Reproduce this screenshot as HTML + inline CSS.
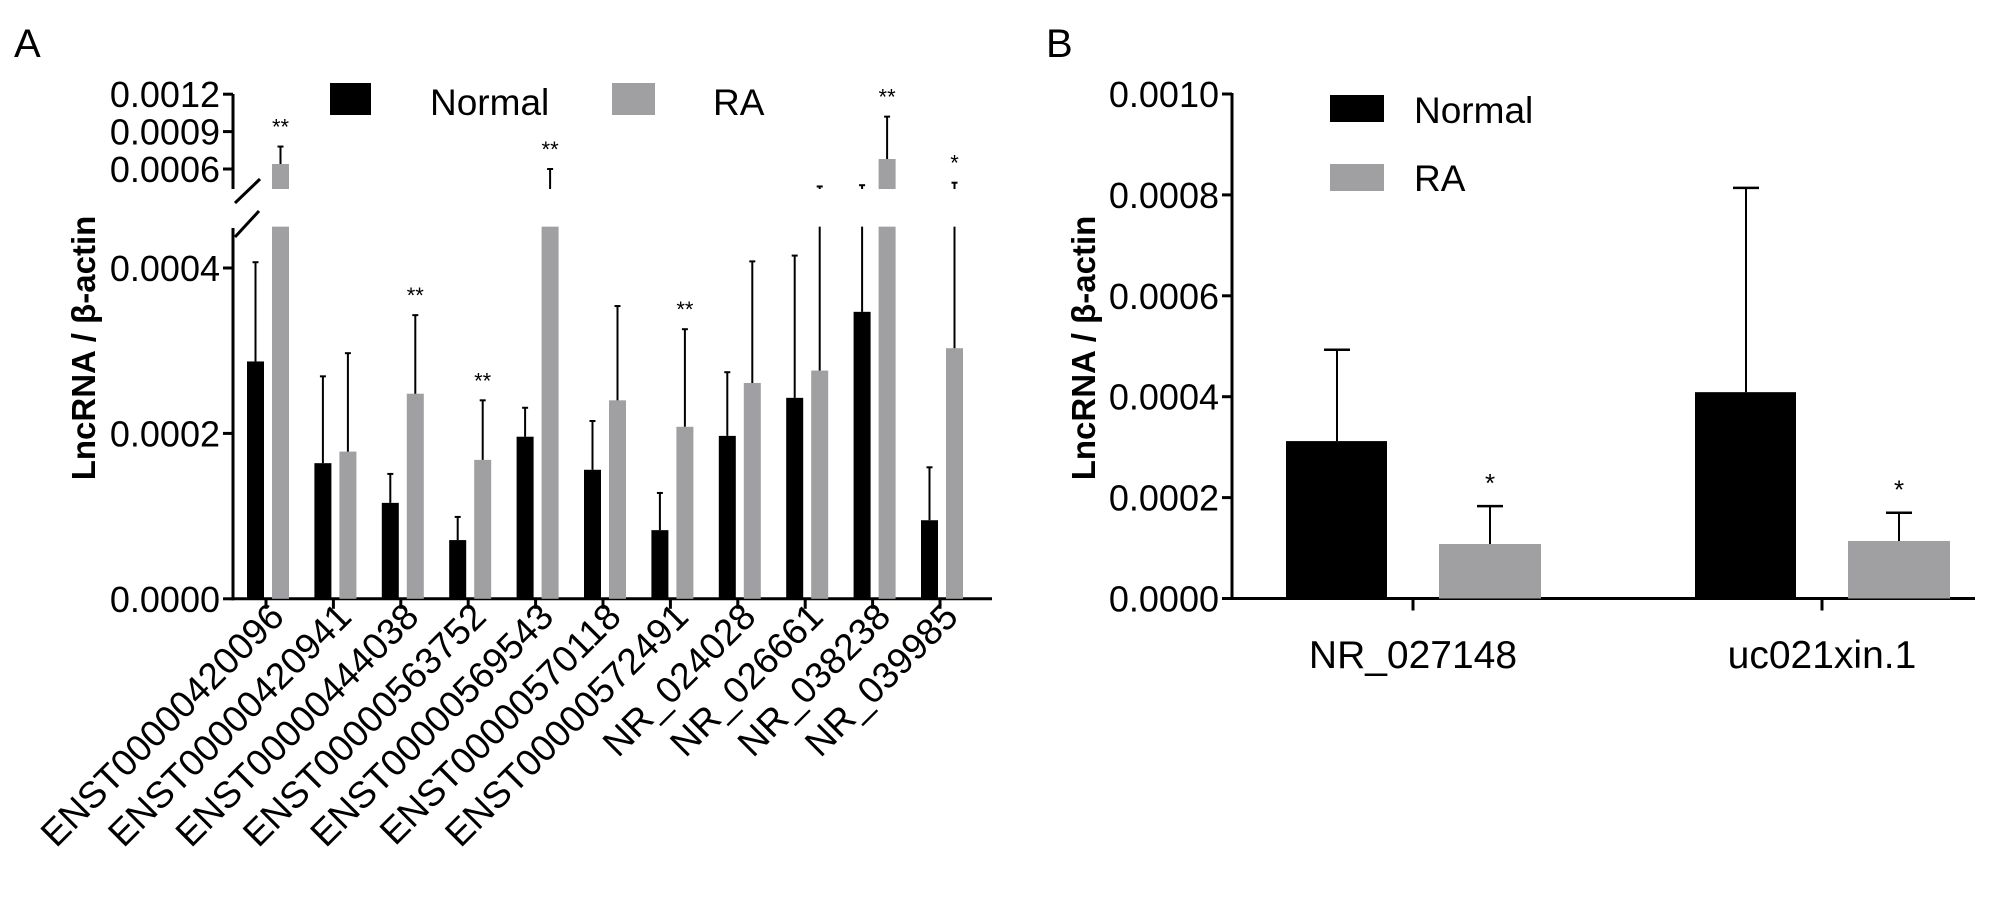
<!DOCTYPE html>
<html><head><meta charset="utf-8"><style>
body{margin:0;background:#fff;}
svg{display:block;font-family:"Liberation Sans",Arial,sans-serif;}
</style></head><body>
<svg id="chart" width="2008" height="903" viewBox="0 0 2008 903">
<text x="14" y="57" font-size="40">A</text>
<text x="1046" y="57" font-size="40">B</text>
<g id="A"></g>
<g id="B"></g>
</svg>
<script>
const catsA=["ENST00000420096","ENST00000420941","ENST00000444038","ENST00000563752","ENST00000569543","ENST00000570118","ENST00000572491","NR_024028","NR_026661","NR_038238","NR_039985"];
const normalA=[0.000287,0.000164,0.000116,0.000071,0.000196,0.000156,0.000083,0.000197,0.000243,0.000347,0.000095];
const normalErrA=[0.000407,0.000269,0.000151,0.000099,0.000231,0.000215,0.000128,0.000274,0.000415,0.00047,0.000159];
const raA=[0.00064,0.000178,0.000248,0.000168,0.00045,0.00024,0.000208,0.000261,0.000276,0.00068,0.000303];
const raErrA=[0.00078,0.000297,0.000343,0.00024,0.0006,0.000354,0.000326,0.000408,0.00046,0.00102,0.00049];
const starsA=["**","","**","**","**","","**","","","**","*"];
const lowTicksA=[0,0.0002,0.0004];
const upTicksA=[0.0006,0.0009,0.0012];
const catsB=["NR_027148","uc021xin.1"];
const normalB=[0.000312,0.000409];
const normalErrB=[0.000493,0.000814];
const raB=[0.000108,0.000114];
const raErrB=[0.000183,0.00017];
const starsB=["*","*"];
const ticksB=[0,0.0002,0.0004,0.0006,0.0008,0.001];

const NS="http://www.w3.org/2000/svg";
function mk(p,t,a,txt){const e=document.createElementNS(NS,t);for(const k in a)e.setAttribute(k,a[k]);if(txt!==undefined)e.textContent=txt;p.appendChild(e);return e;}
const GRAY="#a0a0a2";
// ---- Panel A ----
const A=document.getElementById('A');
const axA=233, baseA=598.8, brk=0.00045;
const yLow=v=>baseA-v/0.0002*165.4;
const yUp=v=>169-(v-0.0006)/0.0003*37.4;
const upBottom=189, lowTop=yLow(brk);
const xA=i=>268+i*67.4;
let e;
e=mk(A,'line',{x1:axA,y1:94,x2:axA,y2:upBottom,stroke:'#000','stroke-width':3});


e=mk(A,'line',{x1:axA,y1:228,x2:axA,y2:baseA+1.5,stroke:'#000','stroke-width':3});


mk(A,'line',{x1:235,y1:203,x2:260,y2:179,stroke:'#000','stroke-width':3});
mk(A,'line',{x1:235,y1:237,x2:259,y2:211,stroke:'#000','stroke-width':3});
e=mk(A,'line',{x1:axA-1.5,y1:baseA,x2:992,y2:baseA,stroke:'#000','stroke-width':3});


lowTicksA.forEach(v=>{const y=yLow(v);mk(A,'line',{x1:axA-10,y1:y,x2:axA,y2:y,stroke:'#000','stroke-width':3});
e=mk(A,'text',{x:axA-13,y:y+13,'font-size':36,'text-anchor':'end'},v.toFixed(4));

});
upTicksA.forEach(v=>{const y=yUp(v);mk(A,'line',{x1:axA-10,y1:y,x2:axA,y2:y,stroke:'#000','stroke-width':3});
e=mk(A,'text',{x:axA-13,y:y+13,'font-size':36,'text-anchor':'end'},v.toFixed(4));

});
e=mk(A,'text',{transform:'translate(95,348) rotate(-90)','font-size':33,'font-weight':'bold','text-anchor':'middle'},'LncRNA / β-actin');


function barA(x,v,col,name){
  if(v<=brk){e=mk(A,'rect',{x:x,y:yLow(v),width:17,height:baseA-yLow(v),fill:col});}
  else{e=mk(A,'rect',{x:x,y:lowTop,width:17,height:baseA-lowTop,fill:col});
    mk(A,'rect',{x:x,y:yUp(v),width:17,height:upBottom-yUp(v),fill:col});}
  
  
}
function errA(cx,v,err){
  const seg=(y1,y2)=>{mk(A,'line',{x1:cx,y1:y1,x2:cx,y2:y2,stroke:'#000','stroke-width':2});};
  let top;
  if(v<=brk&&err<=brk){seg(yLow(v),yLow(err));top=yLow(err);}
  else if(v<=brk){seg(yLow(v),lowTop);seg(upBottom,yUp(err));top=yUp(err);}
  else{seg(yUp(v),yUp(err));top=yUp(err);}
  mk(A,'line',{x1:cx-3,y1:top,x2:cx+3,y2:top,stroke:'#000','stroke-width':2});
  return top;
}
catsA.forEach((c,i)=>{
  const cx=xA(i);
  barA(cx-21,normalA[i],'#000','bar-normal');
  errA(cx-12.5,normalA[i],normalErrA[i]);
  barA(cx+4,raA[i],GRAY,'bar-ra');
  const t=errA(cx+12.5,raA[i],raErrA[i]);
  if(starsA[i]){e=mk(A,'text',{x:cx+12.5,y:t-12,'font-size':22,'text-anchor':'middle'},starsA[i]);
  
  }
  const tx=cx-2;
  mk(A,'line',{x1:tx,y1:baseA,x2:tx,y2:baseA+10,stroke:'#000','stroke-width':3});
  e=mk(A,'text',{transform:`translate(${tx+20},${baseA+20}) rotate(-45)`,'font-size':37,'text-anchor':'end'},c);
  
  
});
e=mk(A,'rect',{x:330,y:83,width:41,height:32,fill:'#000'});


e=mk(A,'text',{x:430,y:115,'font-size':37},'Normal');


e=mk(A,'rect',{x:612,y:83,width:43,height:32,fill:GRAY});


e=mk(A,'text',{x:713,y:115,'font-size':37},'RA');


// ---- Panel B ----
const B=document.getElementById('B');
const axB=1232, baseB=598.5;
const yB=v=>baseB-v/0.001*504.5;
const xB=i=>1413+i*409;
e=mk(B,'line',{x1:axB,y1:yB(0.001)-1,x2:axB,y2:baseB+1.5,stroke:'#000','stroke-width':3});


e=mk(B,'line',{x1:axB,y1:baseB,x2:1975,y2:baseB,stroke:'#000','stroke-width':3});


ticksB.forEach(v=>{const y=yB(v);mk(B,'line',{x1:axB-10,y1:y,x2:axB,y2:y,stroke:'#000','stroke-width':3});
e=mk(B,'text',{x:axB-13,y:y+13,'font-size':36,'text-anchor':'end'},v.toFixed(4));

});
e=mk(B,'text',{transform:'translate(1095,348) rotate(-90)','font-size':33,'font-weight':'bold','text-anchor':'middle'},'LncRNA / β-actin');


function errB(cx,v,err){
  mk(B,'line',{x1:cx,y1:yB(v),x2:cx,y2:yB(err),stroke:'#000','stroke-width':2});
  mk(B,'line',{x1:cx-13,y1:yB(err),x2:cx+13,y2:yB(err),stroke:'#000','stroke-width':2.5});
}
catsB.forEach((c,i)=>{
  const cx=xB(i);
  e=mk(B,'rect',{x:cx-127,y:yB(normalB[i]),width:101,height:baseB-yB(normalB[i]),fill:'#000'});
  
  
  errB(cx-76,normalB[i],normalErrB[i]);
  e=mk(B,'rect',{x:cx+26,y:yB(raB[i]),width:102,height:baseB-yB(raB[i]),fill:GRAY});
  
  
  errB(cx+77,raB[i],raErrB[i]);
  e=mk(B,'text',{x:cx+77,y:yB(raErrB[i])-14,'font-size':26,'text-anchor':'middle'},starsB[i]);
  
  
  mk(B,'line',{x1:cx,y1:baseB,x2:cx,y2:baseB+12,stroke:'#000','stroke-width':3});
  e=mk(B,'text',{x:cx,y:668,'font-size':39,'text-anchor':'middle'},c);
  
  
});
e=mk(B,'rect',{x:1330,y:95,width:54,height:27,fill:'#000'});


e=mk(B,'text',{x:1414,y:123,'font-size':37},'Normal');


e=mk(B,'rect',{x:1330,y:164,width:54,height:27,fill:GRAY});


e=mk(B,'text',{x:1414,y:191,'font-size':37},'RA');


</script>
</body></html>
